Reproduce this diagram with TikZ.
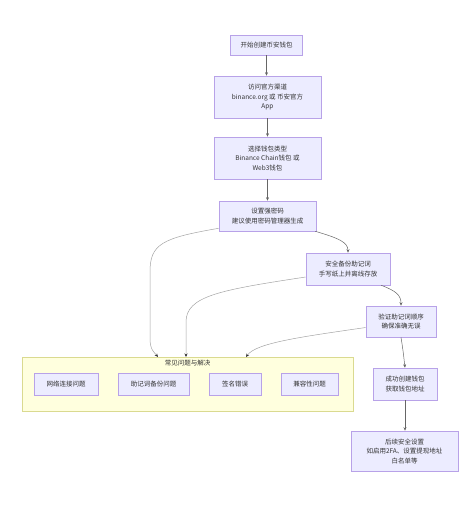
\documentclass[tikz,border=0pt]{standalone}
\usepackage{fontspec}
\setmainfont{Noto Sans CJK SC}
\usetikzlibrary{arrows.meta}
\definecolor{nodefill}{HTML}{ECECFF}
\definecolor{nodedraw}{HTML}{B8A2E8}
\definecolor{clfill}{HTML}{FFFFDE}
\definecolor{cldraw}{HTML}{DADA90}
\definecolor{txt}{HTML}{333333}
\begin{document}
\begin{tikzpicture}[x=1pt,y=-1pt,
  box/.style={draw=nodedraw, fill=nodefill, line width=0.6pt, align=center,
    font=\fontsize{6.5}{9.5}\selectfont, text=txt, inner sep=0pt},
  conn/.style={draw=txt!75, line width=0.5pt, -{Stealth[length=3.5pt,width=3pt]}},
  cconn/.style={draw=txt!45, line width=0.5pt, -{Stealth[length=3.5pt,width=3pt,color=txt]}}]
\useasboundingbox (0,0) rectangle (466,509);

\node[box, minimum width=72, minimum height=20] (start) at (266.5,45) {开始创建币安钱包};
\node[box, minimum width=107, minimum height=42] (visit) at (267.5,97) {访问官方渠道\\binance.org 或 币安官方\\App};
\node[box, minimum width=107, minimum height=42] (choose) at (267.5,158) {选择钱包类型\\Binance Chain钱包 或\\Web3钱包};
\node[box, minimum width=97, minimum height=30] (pwd) at (267.5,216) {设置强密码\\建议使用密码管理器生成};
\node[box, minimum width=84, minimum height=32] (backup) at (348,269) {安全备份助记词\\手写纸上并离线存放};
\node[box, minimum width=70, minimum height=31] (verify) at (401,321.5) {验证助记词顺序\\确保准确无误};
\node[box, minimum width=64, minimum height=32] (success) at (405,384) {成功创建钱包\\获取钱包地址};
\node[box, minimum width=107, minimum height=40] (after) at (404.5,451) {后续安全设置\\如启用2FA、设置提现地址\\白名单等};

\node[draw=cldraw, fill=clfill, line width=0.6pt, minimum width=331, minimum height=54, inner sep=0pt] (cl) at (187.5,384) {};
\node[font=\fontsize{6.5}{9.5}\selectfont, text=txt, inner sep=0pt] (cltitle) at (187.5,363) {常见问题与解决};
\node[box, minimum width=64, minimum height=22] (net) at (66,384) {网络连接问题};
\node[box, minimum width=71, minimum height=22] (mnem) at (153.5,384) {助记词备份问题};
\node[box, minimum width=52, minimum height=22] (sign) at (235,384) {签名错误};
\node[box, minimum width=57, minimum height=22] (compat) at (309.5,384) {兼容性问题};

\coordinate (e1) at (158,357);
\coordinate (e2) at (186,357);
\coordinate (e3) at (246,357);

\draw[conn] (start.south) -- (start.south |- visit.north);
\draw[conn] (visit.south) -- (visit.south |- choose.north);
\draw[conn] (choose.south) -- (choose.south |- pwd.north);
\draw[conn] ([xshift=-1pt]pwd.south east) .. controls (338,238) and (348,242) .. (backup.north);
\draw[conn] ([xshift=-9pt]backup.south east) .. controls (396,291) and (401,295) .. (verify.north);
\draw[conn] (verify.south) .. controls (403,350) .. (success.north);
\draw[conn] (success.south) -- (success.south |- after.north);

\draw[cconn] ([yshift=3pt]pwd.south west) .. controls (162,238) and (150,244) .. (150,272) -- (150,338) .. controls (150,350) and (154,352) .. (e1);
\draw[cconn] ([yshift=-8pt]backup.west) .. controls (220,290) and (186,296) .. (186,322) -- (e2);
\draw[cconn] ([yshift=-6pt]verify.west) .. controls (300,337) and (256,343) .. (e3);
\end{tikzpicture}
\end{document}
